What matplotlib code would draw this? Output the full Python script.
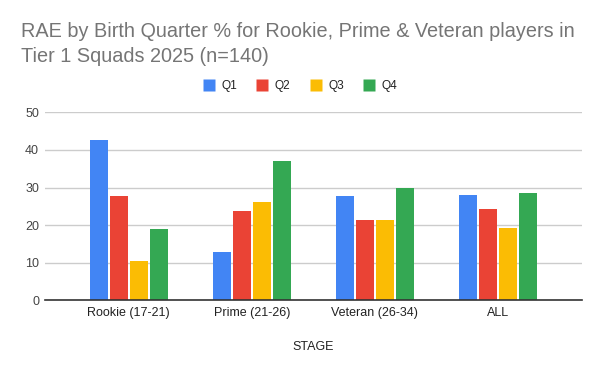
import matplotlib
matplotlib.use("Agg")
import matplotlib.pyplot as plt
from matplotlib.lines import Line2D
import numpy as np

categories = ["Rookie (17-21)", "Prime (21-26)", "Veteran (26-34)", "ALL"]
series_names = ["Q1", "Q2", "Q3", "Q4"]
q1 = [42.6, 12.8, 27.7, 28.0]
q2 = [27.7, 23.7, 21.3, 24.3]
q3 = [10.4, 26.1, 21.3, 19.1]
q4 = [19.0, 37.0, 29.9, 28.5]
series_values = [q1, q2, q3, q4]
colors = ["#4285F4", "#EA4335", "#FBBC04", "#34A853"]
yticks = [0, 10, 20, 30, 40, 50]

plt.rcParams['font.family'] = ['Liberation Sans', 'DejaVu Sans']

W, H = 600, 371
fig = plt.figure(figsize=(W / 100, H / 100), dpi=100)

left, right = 45, 582
bottom, top = 300.3, 112.3
ax = fig.add_axes([left / W, 1 - bottom / H, (right - left) / W, (bottom - top) / H])

x = np.arange(len(categories))
step = 0.1626
width = 0.144
for i, (name, vals, c) in enumerate(zip(series_names, series_values, colors)):
    ax.bar(x + (i - 1.5) * step, vals, width=width, color=c, label=name, zorder=3)

ax.set_xlim(-0.681, 3.685)
ax.set_ylim(0, 50)
ax.set_yticks(yticks)
ax.set_yticklabels([str(t) for t in yticks])
ax.set_xticks(x)
ax.set_xticklabels(categories)
ax.tick_params(axis='y', length=0, pad=4.3, labelsize=9, labelcolor="#444444")
ax.tick_params(axis='x', length=0, pad=4.5, labelsize=9, labelcolor="#222222")
ax.grid(axis='y', color="#cccccc", linewidth=1, zorder=0)
for s in ["top", "right", "left"]:
    ax.spines[s].set_visible(False)
ax.spines["bottom"].set_color("#333333")
ax.spines["bottom"].set_linewidth(1.2)
ax.spines["bottom"].set_zorder(4)
ax.set_xlabel("STAGE", fontsize=9, color="#222222", labelpad=16)

fig.text(20.7 / W, 1 - 37.3 / H, "RAE by Birth Quarter % for Rookie, Prime & Veteran players in",
         fontsize=14.3, color="#757575", va="baseline", ha="left")
fig.text(20.7 / W, 1 - 61.7 / H, "Tier 1 Squads 2025 (n=140)",
         fontsize=14.3, color="#757575", va="baseline", ha="left")

handles = [Line2D([], [], linestyle="none", marker="s", markersize=8.6,
                  markerfacecolor=c, markeredgecolor="none", label=n)
           for n, c in zip(series_names, colors)]
fig.legend(handles=handles, loc="center", bbox_to_anchor=(300 / W, 1 - 86 / H), ncol=4,
           frameon=False, fontsize=8.6, handlelength=1.0,
           handletextpad=0.55, columnspacing=1.6, labelcolor="#222222", borderpad=0)

fig.savefig("out.png", dpi=100)
